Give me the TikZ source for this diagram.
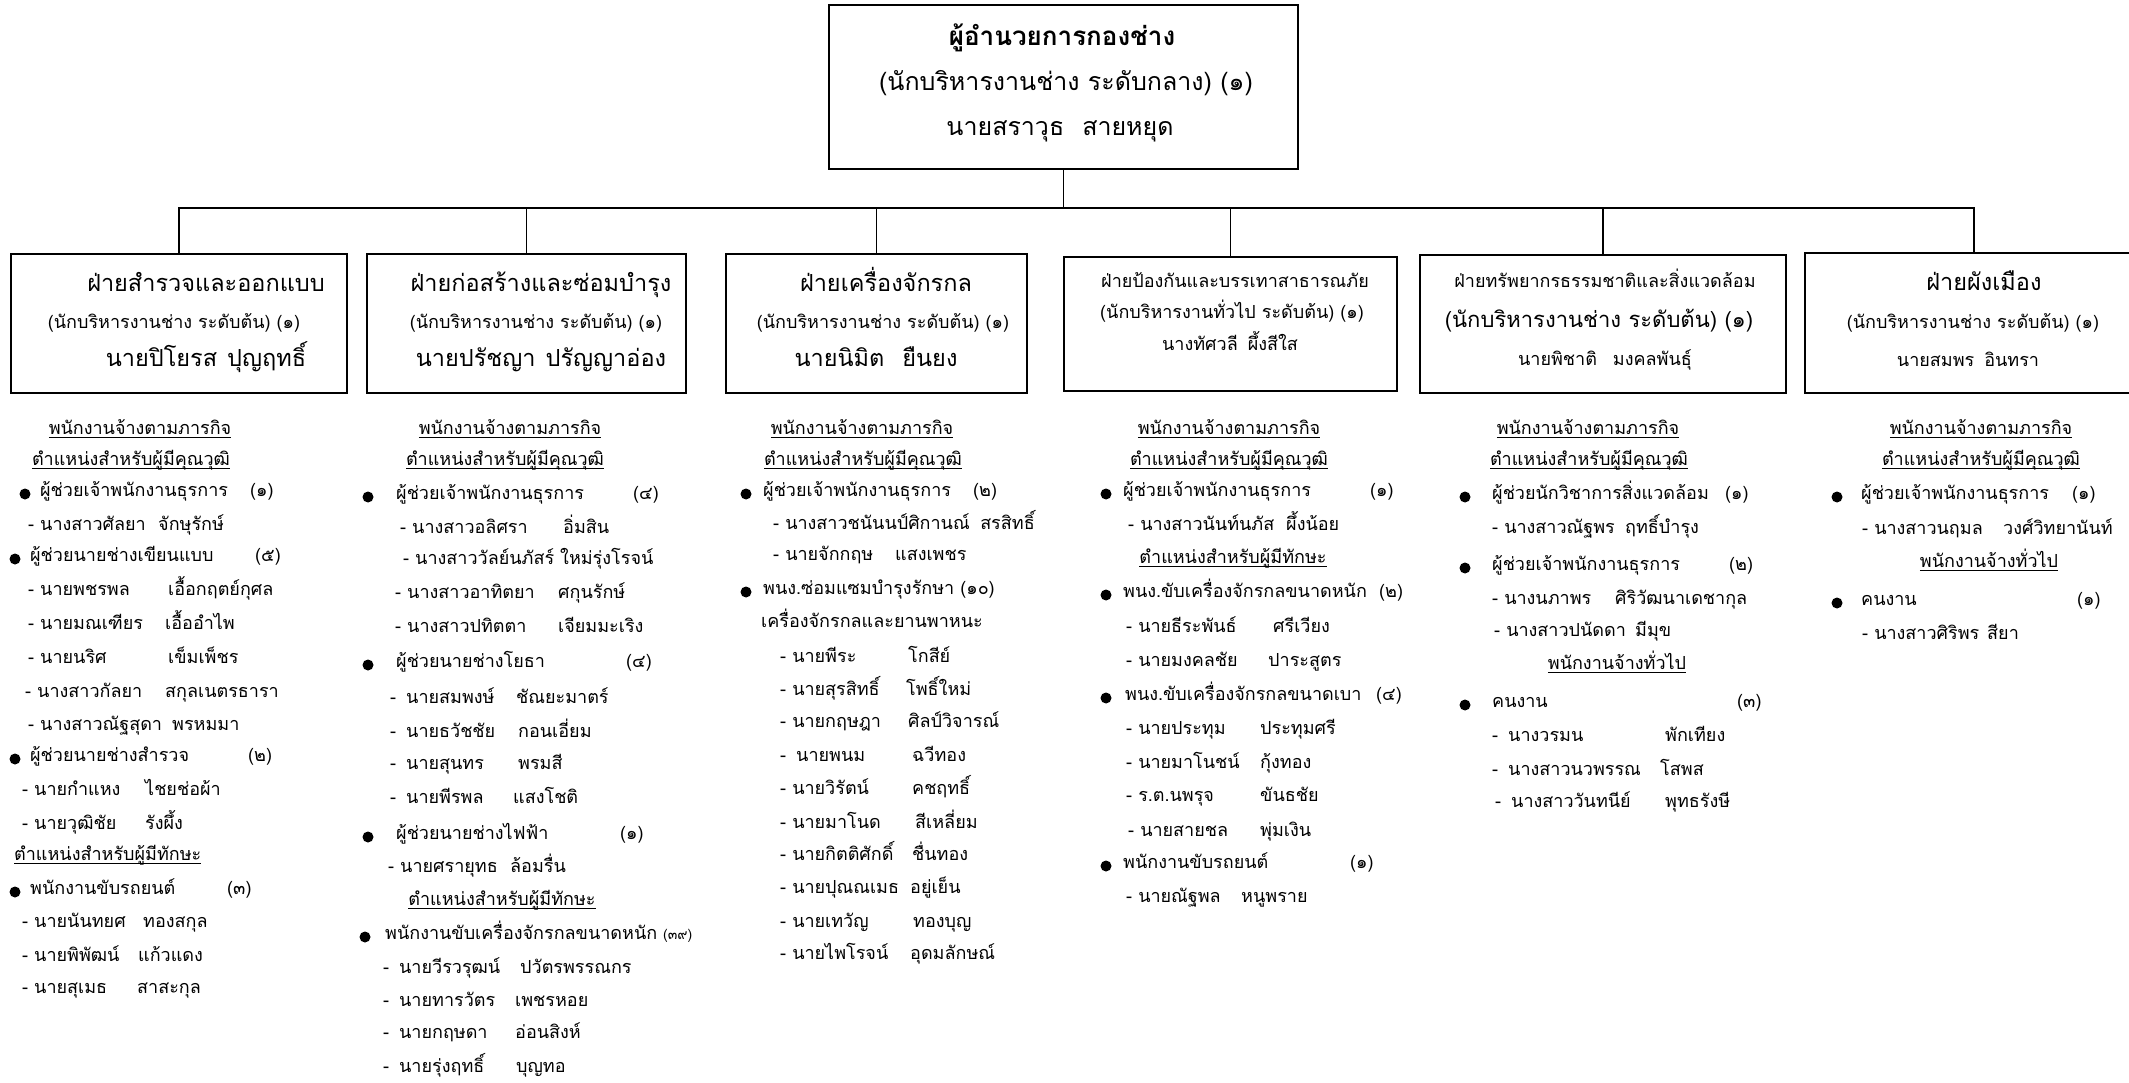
\documentclass[tikz,border=0pt]{standalone}
\usepackage{fontspec}
\newfontfamily\thai[Script=Thai]{Loma}
\newcommand\lst{\thai\fontsize{18}{20}\selectfont}
\newcommand\bigf{\thai\fontsize{23.5}{26}\selectfont}
\newcommand\smallf{\thai\fontsize{18}{20}\selectfont}
\newcommand\nm[3]{\makebox[#1pt][l]{#2}#3}
\newcommand\hdrline[1]{\setbox0\hbox{#1}\rlap{\rule[-4pt]{\wd0}{1.2pt}}\box0}
\tikzset{
    dept/.style={draw, line width=1.8pt, inner sep=0, anchor=north west},
    link/.style={line width=1.6pt},
    hdr/.style={font=\lst, inner sep=0, anchor=mid},
    itm/.style={font=\lst, inner sep=0, anchor=mid west},
    bul/.style={circle, fill=black, inner sep=0, minimum size=11pt},
    big/.style={font=\bigf, inner sep=0, anchor=mid},
    small/.style={font=\smallf, inner sep=0, anchor=mid}}

\begin{document}
\begin{tikzpicture}[x=1pt, y=-1pt]
    \useasboundingbox (0,0) rectangle (2129,1083);

    % head of division
    \node[dept, minimum width=469pt, minimum height=164pt] (top) at (828,4) {};
    \node[font=\thai\bfseries\fontsize{26}{28}\selectfont, inner sep=0, anchor=mid] (tta) at (1062,43) {ผู้อำนวยการกองช่าง};
    \node[font=\thai\fontsize{25}{28}\selectfont, inner sep=0, anchor=mid] (ttb) at (1066,88) {(นักบริหารงานช่าง ระดับกลาง) (๑)};
    \node[font=\thai\fontsize{25}{28}\selectfont, inner sep=0, anchor=mid] (ttc) at (1060,133) {นายสราวุธ\hspace{18pt}สายหยุด};

    % sections
    \node[dept, minimum width=336pt, minimum height=139pt] (dp1) at (10,253) {};
    \node[big] (dp1a) at (206,289) {ฝ่ายสำรวจและออกแบบ};
    \node[small] (dp1b) at (174,326) {(นักบริหารงานช่าง ระดับต้น) (๑)};
    \node[big] (dp1c) at (206,364) {นายปิโยรส\hspace{10pt}ปุญฤทธิ์};

    \node[dept, minimum width=319pt, minimum height=139pt] (dp2) at (366,253) {};
    \node[big] (dp2a) at (541,289) {ฝ่ายก่อสร้างและซ่อมบำรุง};
    \node[small] (dp2b) at (536,326) {(นักบริหารงานช่าง ระดับต้น) (๑)};
    \node[big] (dp2c) at (541,364) {นายปรัชญา\hspace{10pt}ปรัญญาอ่อง};

    \node[dept, minimum width=301pt, minimum height=139pt] (dp3) at (725,253) {};
    \node[big] (dp3a) at (886,289) {ฝ่ายเครื่องจักรกล};
    \node[small] (dp3b) at (883,326) {(นักบริหารงานช่าง ระดับต้น) (๑)};
    \node[big] (dp3c) at (876,364) {นายนิมิต\hspace{18pt}ยืนยง};

    \node[dept, minimum width=333pt, minimum height=134pt] (dp4) at (1063,256) {};
    \node[small] (dp4a) at (1235,285) {ฝ่ายป้องกันและบรรเทาสาธารณภัย};
    \node[small] (dp4b) at (1232,316) {(นักบริหารงานทั่วไป ระดับต้น) (๑)};
    \node[small] (dp4c) at (1230,348) {นางทัศวลี\hspace{10pt}ผึ้งสีใส};

    \node[dept, minimum width=366pt, minimum height=138pt] (dp5) at (1419,254) {};
    \node[small] (dp5a) at (1605,285) {ฝ่ายทรัพยากรธรรมชาติและสิ่งแวดล้อม};
    \node[big, font=\thai\fontsize{22}{24}\selectfont] (dp5b) at (1599,325) {(นักบริหารงานช่าง ระดับต้น) (๑)};
    \node[small] (dp5c) at (1605,363) {นายพิชาติ\hspace{16pt}มงคลพันธุ์};

    \node[dept, minimum width=338pt, minimum height=140pt] (dp6) at (1804,252) {};
    \node[big] (dp6a) at (1984,288) {ฝ่ายผังเมือง};
    \node[small] (dp6b) at (1973,326) {(นักบริหารงานช่าง ระดับต้น) (๑)};
    \node[small] (dp6c) at (1968,364) {นายสมพร\hspace{10pt}อินทรา};

    % connectors
    \coordinate (bus) at (0,208);
    \draw[link] (top.south) -- (top.south |- bus);
    \draw[link] (dp1.north) -- (dp1.north |- bus) -- (dp6.north |- bus) -- (dp6.north);
    \foreach \d in {dp2,dp3,dp4,dp5}
        \draw[link] (\d.north) -- (\d.north |- bus);

    % survey and design
    \node[hdr] (a1) at (140,432) {\hdrline{พนักงานจ้างตามภารกิจ}};
    \node[hdr] (a2) at (131,463) {\hdrline{ตำแหน่งสำหรับผู้มีคุณวุฒิ}};
    \node[bul] (a3b) at (25,494) {};
    \node[itm] (a3) at (40,494) {ผู้ช่วยเจ้าพนักงานธุรการ};
    \node[itm] (a3n) at (250,494) {(๑)};
    \node[itm] (a4) at (28,528) {\nm{130}{- นางสาวศัลยา}{จักษุรักษ์}};
    \node[bul] (a5b) at (15,559) {};
    \node[itm] (a5) at (30,559) {ผู้ช่วยนายช่างเขียนแบบ};
    \node[itm] (a5n) at (255,559) {(๕)};
    \node[itm] (a6) at (28,593) {\nm{140}{- นายพชรพล}{เอื้อกฤตย์กุศล}};
    \node[itm] (a7) at (28,627) {\nm{137}{- นายมณเฑียร}{เอื้ออำไพ}};
    \node[itm] (a8) at (28,661) {\nm{140}{- นายนริศ}{เข็มเพ็ชร}};
    \node[itm] (a9) at (25,695) {\nm{140}{- นางสาวกัลยา}{สกุลเนตรธารา}};
    \node[itm] (a10) at (28,728) {\nm{144}{- นางสาวณัฐสุดา}{พรหมมา}};
    \node[bul] (a11b) at (15,759) {};
    \node[itm] (a11) at (30,759) {ผู้ช่วยนายช่างสำรวจ};
    \node[itm] (a11n) at (248,759) {(๒)};
    \node[itm] (a12) at (22,793) {\nm{123}{- นายกำแหง}{ไชยช่อผ้า}};
    \node[itm] (a13) at (22,827) {\nm{123}{- นายวุฒิชัย}{รังผึ้ง}};
    \node[itm] (a14) at (14,858) {\hdrline{ตำแหน่งสำหรับผู้มีทักษะ}};
    \node[bul] (a15b) at (15,892) {};
    \node[itm] (a15) at (30,892) {พนักงานขับรถยนต์};
    \node[itm] (a15n) at (227,892) {(๓)};
    \node[itm] (a16) at (22,925) {\nm{121}{- นายนันทยศ}{ทองสกุล}};
    \node[itm] (a17) at (22,959) {\nm{116}{- นายพิพัฒน์}{แก้วแดง}};
    \node[itm] (a18) at (22,991) {\nm{115}{- นายสุเมธ}{สาสะกุล}};

    % construction and maintenance
    \node[hdr] (b1) at (510,432) {\hdrline{พนักงานจ้างตามภารกิจ}};
    \node[hdr] (b2) at (505,463) {\hdrline{ตำแหน่งสำหรับผู้มีคุณวุฒิ}};
    \node[bul] (b3b) at (368,497) {};
    \node[itm] (b3) at (396,497) {ผู้ช่วยเจ้าพนักงานธุรการ};
    \node[itm] (b3n) at (633,497) {(๔)};
    \node[itm] (b4) at (400,531) {\nm{163}{- นางสาวอลิศรา}{อิ่มสิน}};
    \node[itm] (b5) at (403,562) {\nm{157}{- นางสาววัลย์นภัสร์}{ใหม่รุ่งโรจน์}};
    \node[itm] (b6) at (395,596) {\nm{163}{- นางสาวอาทิตยา}{ศกุนรักษ์}};
    \node[itm] (b7) at (395,630) {\nm{163}{- นางสาวปทิตตา}{เจียมมะเริง}};
    \node[bul] (b8b) at (368,665) {};
    \node[itm] (b8) at (396,665) {ผู้ช่วยนายช่างโยธา};
    \node[itm] (b8n) at (626,665) {(๔)};
    \node[itm] (b9) at (390,701) {\nm{126}{-\hspace{10pt}นายสมพงษ์}{ชัณยะมาตร์}};
    \node[itm] (b10) at (390,735) {\nm{128}{-\hspace{10pt}นายธวัชชัย}{กอนเอี่ยม}};
    \node[itm] (b11) at (390,767) {\nm{128}{-\hspace{10pt}นายสุนทร}{พรมสี}};
    \node[itm] (b12) at (390,801) {\nm{123}{-\hspace{10pt}นายพีรพล}{แสงโชติ}};
    \node[bul] (b13b) at (368,837) {};
    \node[itm] (b13) at (396,837) {ผู้ช่วยนายช่างไฟฟ้า};
    \node[itm] (b13n) at (620,837) {(๑)};
    \node[itm] (b14) at (388,870) {\nm{122}{- นายศรายุทธ}{ล้อมรื่น}};
    \node[hdr] (b15) at (502,903) {\hdrline{ตำแหน่งสำหรับผู้มีทักษะ}};
    \node[bul] (b16b) at (365,937) {};
    \node[itm] (b16) at (385,937) {พนักงานขับเครื่องจักรกลขนาดหนัก};
    \node[itm, font=\thai\fontsize{14}{16}\selectfont] (b16n) at (663,937) {(๓๙)};
    \node[itm] (b17) at (383,971) {\nm{137}{-\hspace{10pt}นายวีรวรุฒน์}{ปวัตรพรรณกร}};
    \node[itm] (b18) at (383,1004) {\nm{132}{-\hspace{10pt}นายทารวัตร}{เพชรหอย}};
    \node[itm] (b19) at (383,1036) {\nm{132}{-\hspace{10pt}นายกฤษดา}{อ่อนสิงห์}};
    \node[itm] (b20) at (383,1070) {\nm{133}{-\hspace{10pt}นายรุ่งฤทธิ์}{บุญทอ}};

    % machinery
    \node[hdr] (c1) at (862,432) {\hdrline{พนักงานจ้างตามภารกิจ}};
    \node[hdr] (c2) at (863,463) {\hdrline{ตำแหน่งสำหรับผู้มีคุณวุฒิ}};
    \node[bul] (c3b) at (746,494) {};
    \node[itm] (c3) at (763,494) {ผู้ช่วยเจ้าพนักงานธุรการ};
    \node[itm] (c3n) at (973,494) {(๒)};
    \node[itm] (c4) at (773,527) {\nm{207}{- นางสาวชนันนป์ศิกานณ์}{สรสิทธิ์}};
    \node[itm] (c5) at (773,558) {\nm{122}{- นายจักกฤษ}{แสงเพชร}};
    \node[bul] (c6b) at (746,592) {};
    \node[itm] (c6) at (763,592) {พนง.ซ่อมแซมบำรุงรักษา (๑๐)};
    \node[itm] (c7) at (761,625) {เครื่องจักรกลและยานพาหนะ};
    \node[itm] (c8) at (780,660) {\nm{128}{- นายพีระ}{โกสีย์}};
    \node[itm] (c9) at (780,693) {\nm{126}{- นายสุรสิทธิ์}{โพธิ์ใหม่}};
    \node[itm] (c10) at (780,725) {\nm{128}{- นายกฤษฎา}{ศิลป์วิจารณ์}};
    \node[itm] (c11) at (780,759) {\nm{132}{-\hspace{10pt}นายพนม}{ฉวีทอง}};
    \node[itm] (c12) at (780,792) {\nm{132}{- นายวิรัตน์}{คชฤทธิ์}};
    \node[itm] (c13) at (780,826) {\nm{135}{- นายมาโนด}{สีเหลี่ยม}};
    \node[itm] (c14) at (780,858) {\nm{132}{- นายกิตติศักดิ์}{ชื่นทอง}};
    \node[itm] (c15) at (780,891) {\nm{130}{- นายปุณณเมธ}{อยู่เย็น}};
    \node[itm] (c16) at (780,925) {\nm{133}{- นายเทวัญ}{ทองบุญ}};
    \node[itm] (c17) at (780,957) {\nm{130}{- นายไพโรจน์}{อุดมลักษณ์}};

    % disaster prevention
    \node[hdr] (d1) at (1229,432) {\hdrline{พนักงานจ้างตามภารกิจ}};
    \node[hdr] (d2) at (1229,463) {\hdrline{ตำแหน่งสำหรับผู้มีคุณวุฒิ}};
    \node[bul] (d3b) at (1106,494) {};
    \node[itm] (d3) at (1123,494) {ผู้ช่วยเจ้าพนักงานธุรการ};
    \node[itm] (d3n) at (1370,494) {(๑)};
    \node[itm] (d4) at (1128,528) {\nm{158}{- นางสาวนันท์นภัส}{ผึ้งน้อย}};
    \node[hdr] (d5) at (1233,561) {\hdrline{ตำแหน่งสำหรับผู้มีทักษะ}};
    \node[bul] (d6b) at (1106,595) {};
    \node[itm] (d6) at (1123,595) {พนง.ขับเครื่องจักรกลขนาดหนัก};
    \node[itm] (d6n) at (1379,595) {(๒)};
    \node[itm] (d7) at (1126,630) {\nm{147}{- นายธีระพันธ์}{ศรีเวียง}};
    \node[itm] (d8) at (1126,664) {\nm{142}{- นายมงคลชัย}{ปาระสูตร}};
    \node[bul] (d9b) at (1106,698) {};
    \node[itm] (d9) at (1125,698) {พนง.ขับเครื่องจักรกลขนาดเบา};
    \node[itm] (d9n) at (1376,698) {(๔)};
    \node[itm] (d10) at (1126,732) {\nm{134}{- นายประทุม}{ประทุมศรี}};
    \node[itm] (d11) at (1126,766) {\nm{134}{- นายมาโนชน์}{กุ้งทอง}};
    \node[itm] (d12) at (1126,799) {\nm{134}{- ร.ต.นพรุจ}{ขันธชัย}};
    \node[itm] (d13) at (1128,834) {\nm{132}{- นายสายชล}{พุ่มเงิน}};
    \node[bul] (d14b) at (1106,866) {};
    \node[itm] (d14) at (1123,866) {พนักงานขับรถยนต์};
    \node[itm] (d14n) at (1350,866) {(๑)};
    \node[itm] (d15) at (1126,900) {\nm{115}{- นายณัฐพล}{หนูพราย}};

    % natural resources and environment
    \node[hdr] (e1) at (1588,432) {\hdrline{พนักงานจ้างตามภารกิจ}};
    \node[hdr] (e2) at (1589,463) {\hdrline{ตำแหน่งสำหรับผู้มีคุณวุฒิ}};
    \node[bul] (e3b) at (1465,497) {};
    \node[itm] (e3) at (1492,497) {ผู้ช่วยนักวิชาการสิ่งแวดล้อม};
    \node[itm] (e3n) at (1725,497) {(๑)};
    \node[itm] (e4) at (1492,531) {\nm{133}{- นางสาวณัฐพร}{ฤทธิ์บำรุง}};
    \node[bul] (e5b) at (1465,568) {};
    \node[itm] (e5) at (1492,568) {ผู้ช่วยเจ้าพนักงานธุรการ};
    \node[itm] (e5n) at (1729,568) {(๒)};
    \node[itm] (e6) at (1492,602) {\nm{123}{- นางนภาพร}{ศิริวัฒนาเดชากุล}};
    \node[itm] (e7) at (1494,634) {\nm{141}{- นางสาวปนัดดา}{มีมุข}};
    \node[hdr] (e8) at (1617,667) {\hdrline{พนักงานจ้างทั่วไป}};
    \node[bul] (e9b) at (1465,705) {};
    \node[itm] (e9) at (1492,705) {คนงาน};
    \node[itm] (e9n) at (1737,705) {(๓)};
    \node[itm] (e10) at (1492,739) {\nm{173}{-\hspace{10pt}นางวรมน}{พักเทียง}};
    \node[itm] (e11) at (1492,773) {\nm{168}{-\hspace{10pt}นางสาวนวพรรณ}{โสพส}};
    \node[itm] (e12) at (1495,805) {\nm{170}{-\hspace{10pt}นางสาววันทนีย์}{พุทธรังษี}};

    % town planning
    \node[hdr] (f1) at (1981,432) {\hdrline{พนักงานจ้างตามภารกิจ}};
    \node[hdr] (f2) at (1981,463) {\hdrline{ตำแหน่งสำหรับผู้มีคุณวุฒิ}};
    \node[bul] (f3b) at (1837,497) {};
    \node[itm] (f3) at (1861,497) {ผู้ช่วยเจ้าพนักงานธุรการ};
    \node[itm] (f3n) at (2072,497) {(๑)};
    \node[itm] (f4) at (1862,532) {\nm{141}{- นางสาวนฤมล}{วงศ์วิทยานันท์}};
    \node[hdr] (f5) at (1989,565) {\hdrline{พนักงานจ้างทั่วไป}};
    \node[bul] (f6b) at (1837,603) {};
    \node[itm] (f6) at (1861,603) {คนงาน};
    \node[itm] (f6n) at (2077,603) {(๑)};
    \node[itm] (f7) at (1862,637) {\nm{125}{- นางสาวศิริพร}{สียา}};

\end{tikzpicture}
\end{document}
